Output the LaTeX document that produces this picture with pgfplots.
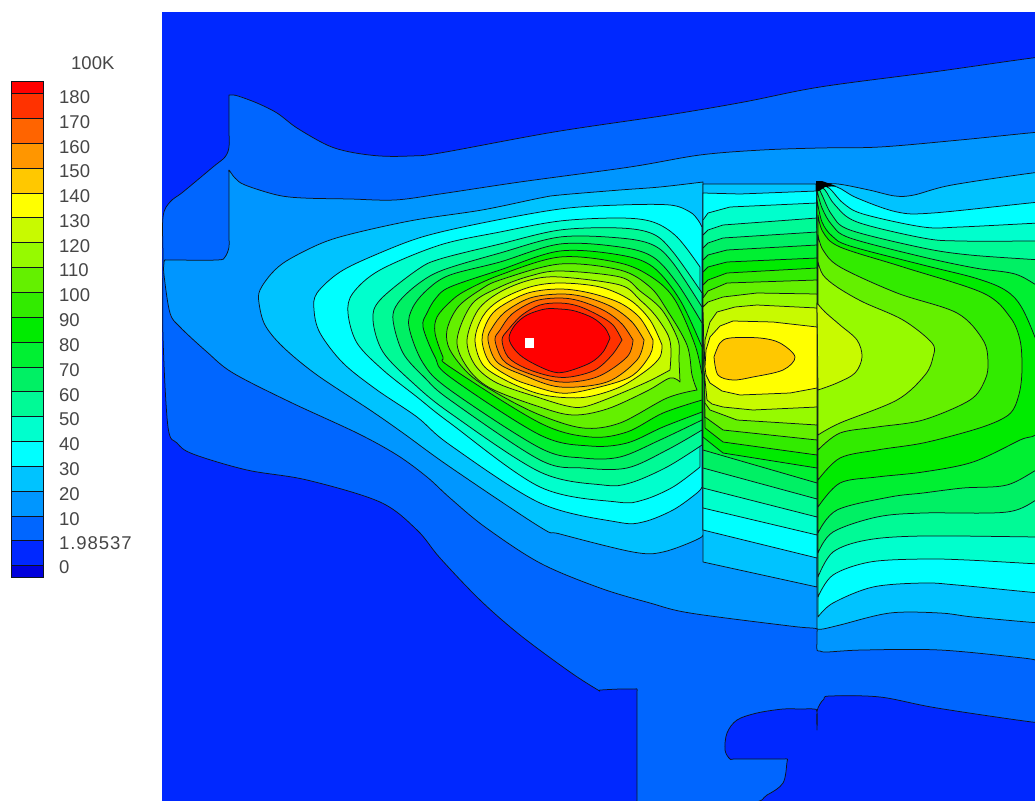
\documentclass[border=0pt]{standalone}
\usepackage{pgfplots}
\pgfplotsset{compat=1.18}
\usepackage{fontspec}
\setmainfont{Liberation Sans}
\definecolor{c0}{RGB}{0,40,255}
\definecolor{c1}{RGB}{0,102,255}
\definecolor{c2}{RGB}{0,150,255}
\definecolor{c3}{RGB}{0,195,255}
\definecolor{c4}{RGB}{0,255,255}
\definecolor{c5}{RGB}{0,255,205}
\definecolor{c6}{RGB}{0,250,150}
\definecolor{c7}{RGB}{0,240,100}
\definecolor{c8}{RGB}{0,240,50}
\definecolor{c9}{RGB}{0,235,0}
\definecolor{c10}{RGB}{50,235,0}
\definecolor{c11}{RGB}{100,240,0}
\definecolor{c12}{RGB}{150,250,0}
\definecolor{c13}{RGB}{200,250,0}
\definecolor{c14}{RGB}{255,255,0}
\definecolor{c15}{RGB}{255,200,0}
\definecolor{c16}{RGB}{255,150,0}
\definecolor{c17}{RGB}{255,100,0}
\definecolor{c18}{RGB}{255,50,0}
\definecolor{c19}{RGB}{255,0,0}
\definecolor{cd}{RGB}{0,0,220}
\definecolor{ln}{RGB}{15,20,30}
\definecolor{tx}{RGB}{70,70,70}
\newcommand{\reg}[2]{\addplot[fill=#1,draw=ln,line width=0.75pt,line join=round] coordinates {#2} --cycle;}
\newcommand{\regs}[2]{\addplot[fill=#1,draw=ln,line width=0.75pt,line join=round,smooth,tension=0.55] coordinates {#2} --cycle;}
\newcommand{\cbar}[3]{\addplot[fill=#1,draw=ln,line width=0.7pt] coordinates {(11,#2)(43,#2)(43,#3)(11,#3)} --cycle;}
\begin{document}
\begin{tikzpicture}
\path[use as bounding box] (0,0) rectangle (1035pt,800pt);
\begin{axis}[scale only axis,width=1035pt,height=800pt,xmin=0,xmax=1035,ymin=0,ymax=800,y dir=reverse,axis lines=none,clip=true,enlargelimits=false]
% plot background
\addplot[fill=c0,draw=none] coordinates {(162,12)(1040,12)(1040,805)(162,805)} --cycle;
% level 1
\regs{c1}{(229,96)(229,95)(232,95)(238,96)(257,103)(277,113)(297,128)(327,145)(350,152)(380,156)(410,156)(440,153)(554,132)(668,115)(744,102)(820,87)(933,72)(1040,57)(1060,57)(1080,200)(1080,600)(1060,722)(1040,723)(937,708)(880,697)(830,696)(824,699)(820,704)(817,712)(817,730)(817,712)(814,709)(800,709)(783,709)(757,713)(737,720)(727,733)(725,750)(730,759)(736,759)(780,759)(787,759)(787,762)(783,783)(767,795)(747,803)(640,803)(637,803)(637,790)(637,700)(637,692)(637,689)(634,689)(620,689)(600,690)(598,690)(570,672)(520,635)(480,600)(440,558)(417,530)(380,502)(307,480)(247,470)(193,454)(177,443)(168,427)(163,337)(163,260)(163,217)(170,202)(183,192)(213,167)(225,157)(229,147)(229,130)(229,105)}
% level 2
\regs{c2}{(229,172)(229,170)(235,178)(245,185)(277,195)(303,198)(350,199)(395,200)(440,194)(520,182)(630,167)(700,155)(762,150)(820,148)(880,147)(960,140)(1040,132)(1060,132)(1080,300)(1080,600)(1060,661)(1040,661)(1023,658)(940,650)(863,650)(827,652)(820,651)(817,650)(817,640)(817,632)(817,629)(812,628)(790,626)(690,613)(650,603)(600,588)(540,563)(485,527)(450,498)(427,477)(397,455)(357,433)(290,402)(233,373)(207,352)(180,327)(170,313)(164,275)(164,263)(165,260)(170,260)(217,260)(225,257)(229,247)(229,235)(229,190)}
% level 3
\regs{c3}{(703,182)(660,187)(620,190)(560,195)(540,198)(482,210)(415,220)(355,233)(322,243)(288,260)(272,273)(260,290)(259,303)(265,325)(283,347)(317,375)(370,410)(403,433)(450,467)(540,527)(560,534)(633,552)(663,552)(700,538)(703,530)}
\reg{c3}{(703,184)(816,184)(817,587)(703,562)}
\regs{c3}{(817,184)(838,184)(869,190)(895,196)(914,195)(952,185)(1040,172)(1060,172)(1080,300)(1080,500)(1060,623)(1040,623)(973,617)(940,613)(890,613)(840,625)(823,629)(817,629)}
% level 4
\regs{c4}{(702,227)(698,220)(690,212)(670,205)(620,205)(560,209)(482,223)(422,237)(375,255)(340,272)(317,293)(314,310)(320,333)(343,363)(377,390)(417,417)(450,445)(540,503)(617,522)(643,522)(673,510)(697,493)(702,487)}
\reg{c4}{(703,193)(740,194)(817,191)(817,558)(703,530)}
\regs{c4}{(817,184)(837,187)(857,198)(897,212)(933,213)(1040,202)(1060,202)(1080,300)(1080,500)(1060,593)(1040,593)(957,585)(923,583)(873,587)(833,603)(818,617)}
% level 5
\regs{c5}{(700,267)(677,237)(653,222)(620,218)(560,221)(500,232)(440,245)(380,270)(353,293)(348,313)(357,343)(383,370)(417,397)(450,423)(540,487)(617,502)(643,500)(673,487)(700,467)}
\reg{c5}{(703,220)(708,213)(730,207)(817,203)(817,535)(703,508)}
\regs{c5}{(817,184)(829,188)(843,203)(863,214)(923,227)(960,227)(1040,223)(1060,223)(1080,300)(1080,500)(1060,564)(1040,564)(967,560)(923,559)(870,562)(833,575)(818,597)}
% level 6
\regs{c6}{(702,293)(673,252)(653,234)(620,228)(560,230)(500,244)(440,259)(417,270)(380,300)(373,320)(383,352)(413,383)(450,413)(540,472)(603,485)(630,483)(667,467)(702,445)}
\reg{c6}{(703,235)(708,230)(723,225)(817,218)(817,517)(703,488)}
\regs{c6}{(817,184)(825,190)(835,205)(857,222)(923,238)(960,241)(1040,241)(1060,241)(1080,300)(1080,500)(1060,537)(1040,537)(923,536)(867,540)(833,552)(818,577)}
% level 7
\regs{c7}{(702,307)(673,263)(653,245)(620,238)(560,237)(500,253)(443,270)(418,284)(398,303)(393,320)(403,353)(425,378)(450,400)(540,460)(583,468)(627,468)(667,450)(702,430)}
\reg{c7}{(703,248)(708,243)(723,238)(817,232)(817,499)(703,468)}
\regs{c7}{(817,184)(822,195)(832,215)(850,230)(923,248)(970,255)(1040,260)(1060,262)(1080,300)(1080,450)(1060,490)(1040,498)(1007,512)(923,513)(877,517)(833,532)(818,553)}
% level 8
\regs{c8}{(702,323)(677,283)(653,257)(620,247)(560,244)(500,262)(450,275)(428,289)(413,307)(409,327)(423,363)(450,390)(540,448)(583,458)(620,457)(660,440)(702,420)}
\reg{c8}{(703,260)(708,255)(727,250)(817,245)(817,483)(703,450)}
\regs{c8}{(817,190)(822,208)(832,225)(850,238)(923,257)(975,268)(1015,274)(1040,287)(1060,295)(1080,350)(1080,440)(1060,460)(1040,468)(1007,485)(963,488)(923,493)(890,497)(837,510)(818,533)}
% level 9
\regs{c9}{(702,347)(680,300)(653,267)(620,255)(560,251)(500,270)(450,287)(436,298)(427,313)(423,327)(435,357)(450,377)(540,435)(590,446)(627,443)(663,427)(702,412)}
\reg{c9}{(703,272)(708,267)(727,262)(817,258)(817,468)(723,453)(703,437)}
\regs{c9}{(817,200)(822,222)(832,236)(850,246)(923,265)(975,278)(1005,290)(1022,308)(1040,350)(1050,380)(1040,430)(1020,440)(973,462)(923,472)(877,477)(840,483)(818,507)}
% level 10
\regs{c10}{(702,375)(695,345)(675,300)(653,278)(620,263)(560,257)(500,275)(465,291)(450,302)(437,317)(435,333)(443,357)(450,367)(540,423)(590,437)(627,432)(663,413)(702,400)}
\reg{c10}{(703,285)(708,280)(727,273)(817,268)(817,455)(723,442)(705,428)}
\regs{c10}{(818,215)(823,232)(840,247)(903,267)(983,293)(1010,317)(1020,340)(1022,367)(1020,390)(1013,410)(1000,420)(973,430)(923,443)(877,450)(840,458)(818,480)}
% level 11
\regs{c11}{(697,390)(692,375)(687,345)(667,310)(650,287)(620,270)(560,264)(500,280)(480,290)(458,307)(447,330)(450,350)(470,375)(500,395)(540,415)(583,428)(620,423)(667,398)(697,390)}
\reg{c11}{(703,298)(708,291)(727,283)(817,280)(817,440)(723,430)(705,417)}
\regs{c11}{(818,235)(823,250)(840,267)(897,293)(957,313)(983,340)(988,362)(985,380)(970,400)(923,420)(877,427)(840,433)(818,450)}
% level 12
\regs{c12}{(680,382)(679,360)(678,340)(662,310)(640,291)(620,277)(560,271)(530,276)(500,287)(472,304)(457,340)(467,367)(490,388)(540,407)(573,415)(607,409)(647,391)(670,378)(680,382)}
\reg{c12}{(703,307)(708,302)(723,297)(757,293)(817,294)(817,425)(737,420)(710,410)(705,403)}
\regs{c12}{(818,262)(823,275)(837,287)(863,302)(903,320)(932,343)(933,357)(925,375)(897,400)(840,423)(818,435)}
% level 13
\regs{c13}{(670,370)(671,350)(668,335)(655,315)(640,300)(620,285)(560,277)(530,280)(500,292)(478,310)(467,340)(475,365)(497,383)(540,398)(567,406)(583,407)(607,399)(647,382)(670,370)}
\reg{c13}{(705,340)(710,322)(717,312)(735,307)(757,305)(817,308)(817,407)(753,410)(723,407)(712,404)(707,400)(704,370)}
\regs{c13}{(817,303)(825,312)(840,325)(857,340)(862,357)(855,373)(837,383)(818,390)}
% level 14
\regs{c14}{(662,345)(660,357)(647,370)(620,387)(587,397)(557,397)(533,392)(505,380)(483,365)(475,340)(483,316)(500,300)(530,287)(560,283)(600,287)(630,300)(650,320)(662,345)}
\reg{c14}{(705,367)(706,350)(710,337)(720,326)(733,321)(773,322)(817,327)(817,388)(790,393)(740,395)(722,391)(710,383)(706,375)}
% levels 15 to 19
\regs{c15}{(653,340)(640,318)(620,303)(590,293)(560,289)(528,293)(500,307)(488,320)(482,340)(490,363)(512,378)(530,385)(560,393)(587,390)(630,377)(650,355)(653,340)}
\regs{c15}{(714,357)(720,343)(730,338)(760,338)(780,343)(795,357)(783,370)(753,377)(733,380)(718,375)(714,357)}
\regs{c16}{(644,340)(632,322)(612,307)(585,297)(560,294)(530,298)(505,312)(492,328)(488,340)(497,362)(523,375)(560,387)(607,382)(637,360)(644,340)}
\regs{c17}{(633,340)(622,324)(605,311)(580,301)(560,298)(535,301)(512,314)(500,330)(495,340)(503,360)(522,371)(560,382)(597,377)(627,357)(633,340)}
\regs{c18}{(622,340)(613,325)(598,315)(578,306)(560,303)(540,305)(522,315)(508,330)(502,340)(508,357)(525,368)(550,376)(570,377)(595,370)(612,355)(622,340)}
\regs{c19}{(610,338)(605,328)(593,318)(575,311)(560,309)(545,309)(527,315)(515,325)(509,338)(515,350)(527,360)(550,371)(565,372)(590,363)(603,352)(610,338)}
% hole
\addplot[fill=white,draw=none] coordinates {(525,338)(534,338)(534,348)(525,348)} --cycle;
% dense contour bunch at the notch
\addplot[fill=black,draw=none] coordinates {(816,181)(822,181)(836,186)(825,187)(819,191)(816,191)} --cycle;
% colour bar
\cbar{c19}{81}{93}\cbar{c18}{93}{118}\cbar{c17}{118}{143}\cbar{c16}{143}{168}\cbar{c15}{168}{193}
\cbar{c14}{193}{217}\cbar{c13}{217}{242}\cbar{c12}{242}{267}\cbar{c11}{267}{292}\cbar{c10}{292}{317}
\cbar{c9}{317}{342}\cbar{c8}{342}{367}\cbar{c7}{367}{391}\cbar{c6}{391}{416}\cbar{c5}{416}{441}
\cbar{c4}{441}{466}\cbar{c3}{466}{491}\cbar{c2}{491}{516}\cbar{c1}{516}{540}\cbar{c0}{540}{565}\cbar{cd}{565}{577}
\end{axis}
\begin{scope}[every node/.style={anchor=west,inner sep=0pt,text=tx,font=\fontsize{18.5}{20}\selectfont}]
\node at (71pt,737pt) {100K};
\node at (59pt,703pt) {180};
\node at (59pt,678pt) {170};
\node at (59pt,653pt) {160};
\node at (59pt,629pt) {150};
\node at (59pt,604pt) {140};
\node at (59pt,579pt) {130};
\node at (59pt,554pt) {120};
\node at (59pt,530pt) {110};
\node at (59pt,505pt) {100};
\node at (59pt,480pt) {90};
\node at (59pt,455pt) {80};
\node at (59pt,430pt) {70};
\node at (59pt,405pt) {60};
\node at (59pt,381pt) {50};
\node at (59pt,356pt) {40};
\node at (59pt,331pt) {30};
\node at (59pt,306pt) {20};
\node at (59pt,281pt) {10};
\node at (59pt,257pt) {\addfontfeature{LetterSpace=5}1.98537};
\node at (59pt,233pt) {0};
\end{scope}
\end{tikzpicture}
\end{document}
